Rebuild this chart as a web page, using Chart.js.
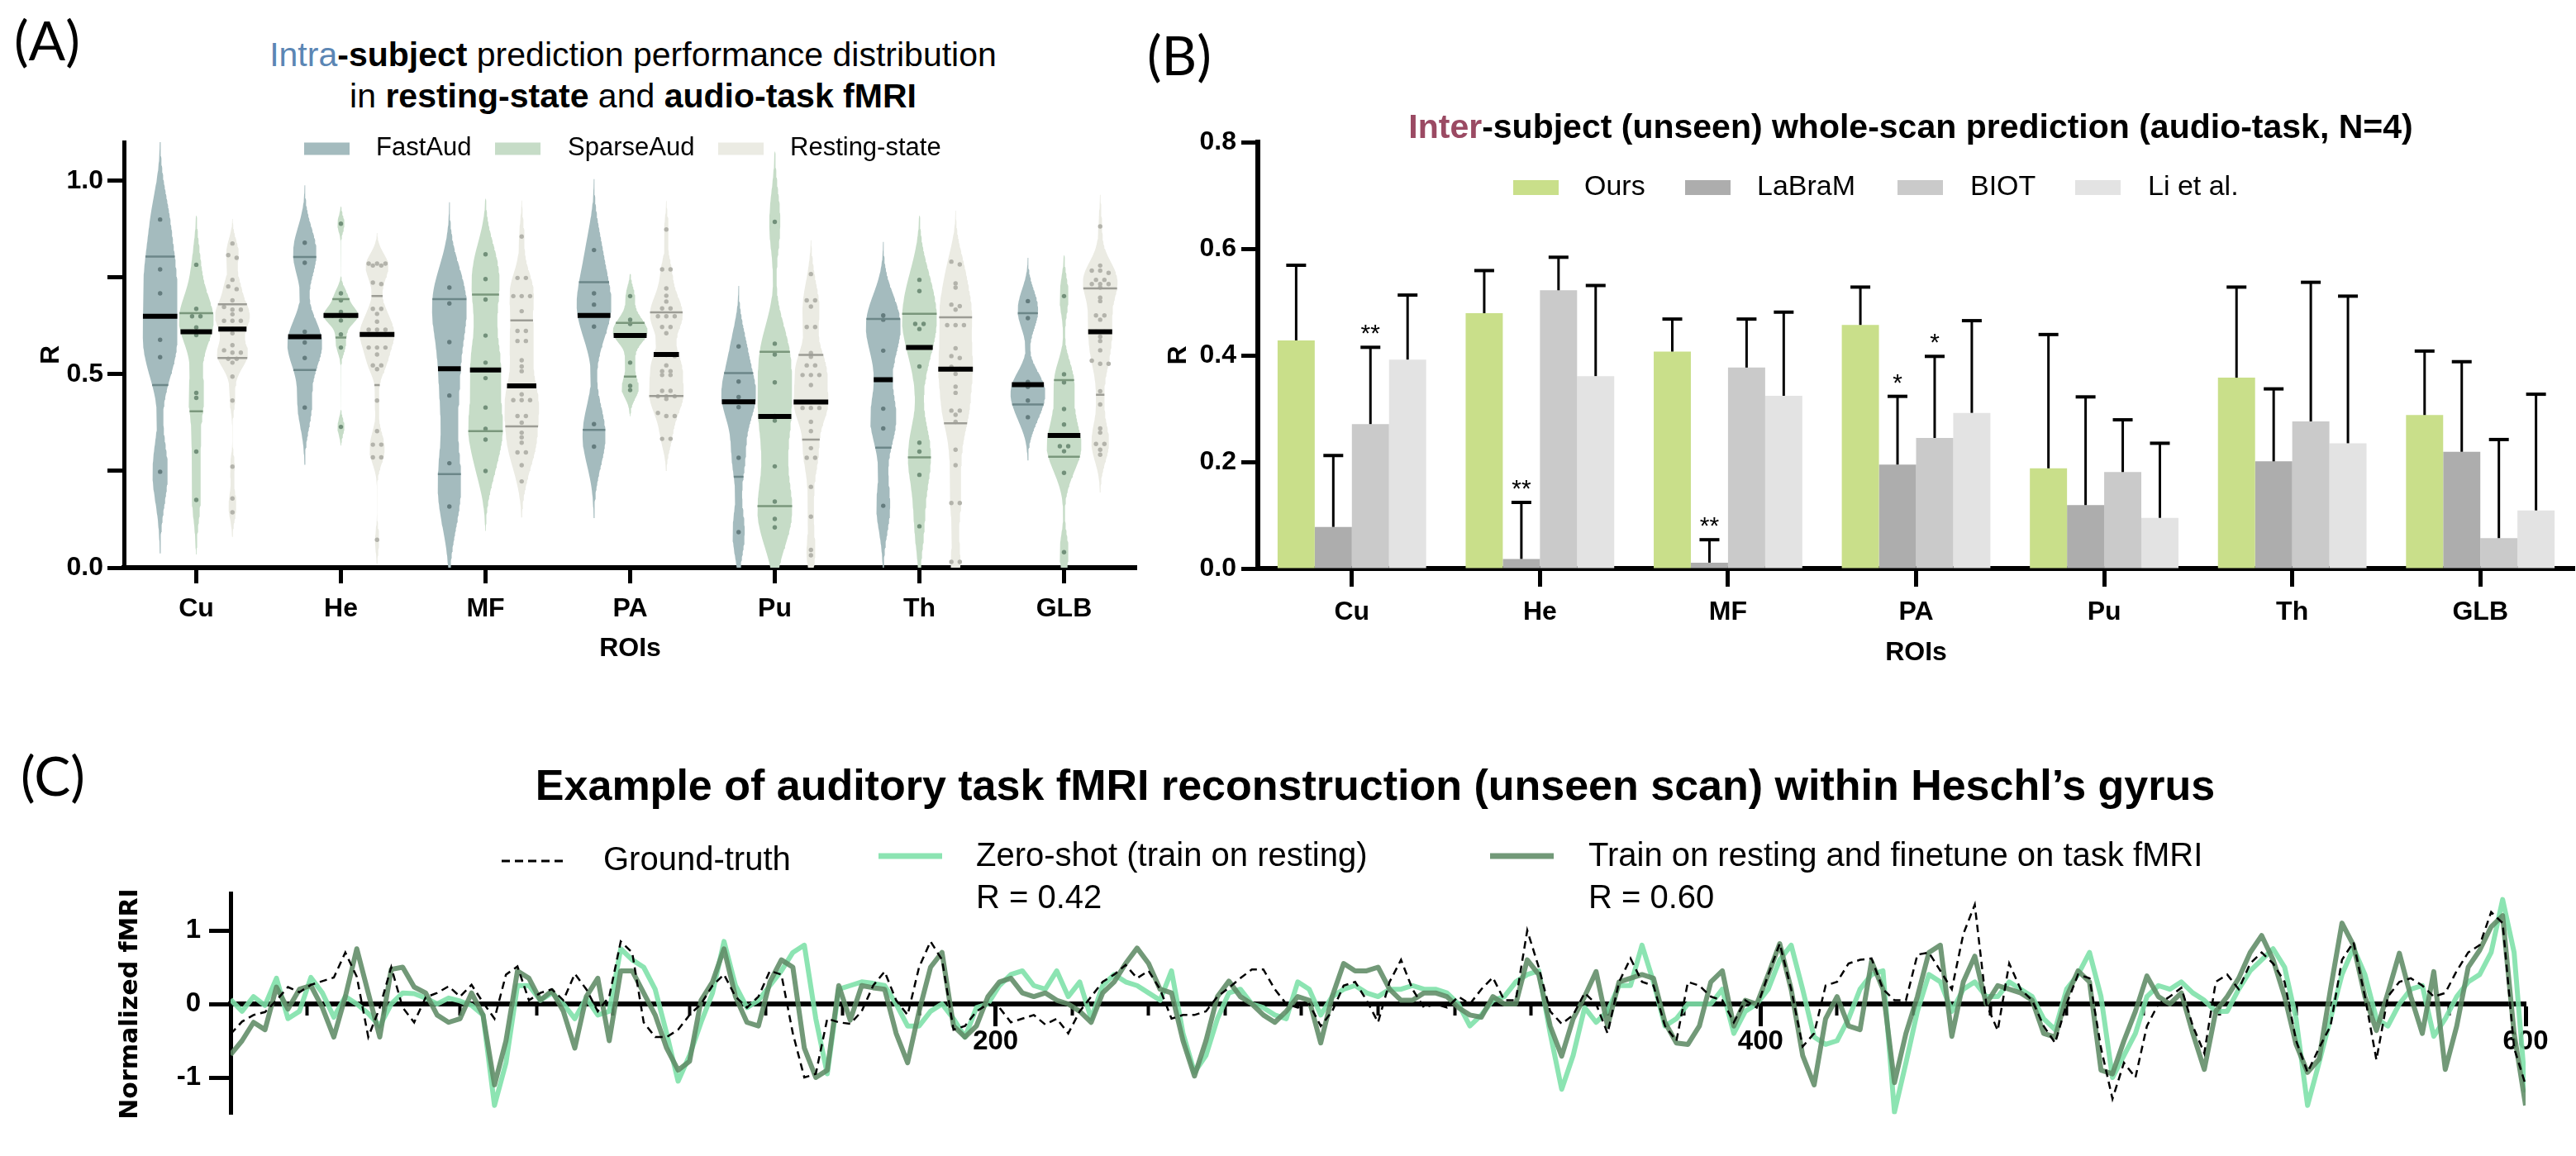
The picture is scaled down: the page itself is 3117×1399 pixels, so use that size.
<!DOCTYPE html>
<html>
<head>
<meta charset="utf-8">
<script src="https://cdn.jsdelivr.net/npm/chart.js@4.4.1/dist/chart.umd.min.js"></script>
<style>
  body { margin: 0; background: #fff; width: 3117px; height: 1399px; position: relative; overflow: hidden;
         font-family: 'Liberation Sans', Arial, sans-serif; }
  canvas { position: absolute; }
  .t { position: absolute; white-space: nowrap; line-height: 1; color: #000; z-index: 2; }
  .c { transform: translateX(-50%); }
  .p { font-family: Lato, 'Open Sans', sans-serif; font-size: 66px; }
</style>
</head>
<body>
<div class="t p" style="left:17px;top:15px">(A)</div>
<div class="t p" style="left:1388px;top:33px">(B)</div>
<div class="t p" style="left:25px;top:905px">(C)</div>

<div class="t c" style="left:766px;top:46px;font-size:41px"><span style="color:#5b86b4">Intra</span><b>-subject</b> prediction performance distribution</div>
<div class="t c" style="left:766px;top:96px;font-size:41px">in <b>resting-state</b> and <b>audio-task fMRI</b></div>
<div class="t c" style="left:2312px;top:133px;font-size:41px;font-weight:bold"><span style="color:#9b4a63">Inter</span>-subject (unseen) whole-scan prediction (audio-task, N=4)</div>
<div class="t c" style="left:1664px;top:924px;font-size:52px;font-weight:bold">Example of auditory task fMRI reconstruction (unseen scan) within Heschl’s gyrus</div>

<canvas id="chartA" width="1400" height="690" style="left:0px;top:140px"></canvas>
<canvas id="chartB" width="1737" height="690" style="left:1380px;top:140px"></canvas>
<canvas id="chartC" width="3117" height="399" style="left:0px;top:1000px"></canvas>

<script>
// ---------------- data ----------------
const roiLabels = ['Cu', 'He', 'MF', 'PA', 'Pu', 'Th', 'GLB'];

// (A) intra-subject R values per scan
const fastAudR = [
  [0.900, 0.771, 0.709, 0.589, 0.544, 0.248],
  [0.840, 0.788, 0.610, 0.582, 0.542, 0.414],
  [0.724, 0.683, 0.583, 0.445, 0.270, 0.158],
  [0.821, 0.709, 0.680, 0.623, 0.371, 0.313],
  [0.572, 0.481, 0.441, 0.415, 0.284, 0.092],
  [0.652, 0.641, 0.561, 0.411, 0.360, 0.160],
  [0.689, 0.645, 0.480, 0.467, 0.432, 0.389]
];
const sparseAudR = [
  [0.783, 0.669, 0.650, 0.650, 0.621, 0.601, 0.452, 0.439, 0.300, 0.175],
  [0.889, 0.709, 0.691, 0.661, 0.652, 0.652, 0.652, 0.639, 0.603, 0.569, 0.364],
  [0.810, 0.746, 0.693, 0.600, 0.530, 0.490, 0.414, 0.359, 0.331, 0.250],
  [0.702, 0.641, 0.630, 0.600, 0.600, 0.600, 0.530, 0.470, 0.459],
  [0.894, 0.579, 0.551, 0.479, 0.392, 0.380, 0.262, 0.171, 0.126, 0.104],
  [0.744, 0.715, 0.630, 0.630, 0.617, 0.520, 0.323, 0.300, 0.240, 0.107],
  [0.702, 0.500, 0.479, 0.410, 0.370, 0.314, 0.314, 0.301, 0.245, 0.040]
];
const restingR = [
  [0.838, 0.808, 0.801, 0.744, 0.727, 0.720, 0.691, 0.674, 0.667, 0.667, 0.655, 0.638, 0.638, 0.638,
   0.617, 0.606, 0.575, 0.562, 0.556, 0.556, 0.540, 0.540, 0.530, 0.494, 0.432, 0.261, 0.179, 0.143],
  [0.786, 0.786, 0.786, 0.781, 0.781, 0.737, 0.733, 0.669, 0.669, 0.656, 0.636, 0.615, 0.615, 0.615,
   0.603, 0.603, 0.603, 0.569, 0.569, 0.569, 0.551, 0.523, 0.523, 0.513, 0.432, 0.353, 0.318, 0.318,
   0.285, 0.285, 0.072],
  [0.856, 0.749, 0.749, 0.702, 0.702, 0.702, 0.663, 0.612, 0.612, 0.586, 0.586, 0.536, 0.520, 0.508,
   0.470, 0.448, 0.433, 0.433, 0.433, 0.392, 0.392, 0.375, 0.349, 0.337, 0.323, 0.298, 0.298, 0.265, 0.223],
  [0.874, 0.771, 0.771, 0.722, 0.703, 0.688, 0.670, 0.670, 0.650, 0.650, 0.650, 0.622, 0.622, 0.606,
   0.550, 0.550, 0.547, 0.523, 0.508, 0.508, 0.498, 0.498, 0.457, 0.457, 0.443, 0.443, 0.443, 0.436,
   0.400, 0.392, 0.392, 0.333, 0.333],
  [0.759, 0.691, 0.691, 0.675, 0.622, 0.622, 0.555, 0.545, 0.523, 0.523, 0.498, 0.498, 0.498, 0.472,
   0.428, 0.428, 0.428, 0.413, 0.413, 0.413, 0.377, 0.353, 0.309, 0.284, 0.284, 0.209, 0.132, 0.046, 0.032],
  [0.791, 0.784, 0.735, 0.724, 0.680, 0.676, 0.667, 0.627, 0.627, 0.627, 0.567, 0.547, 0.542, 0.519,
   0.514, 0.501, 0.468, 0.452, 0.406, 0.406, 0.395, 0.377, 0.305, 0.265, 0.167, 0.167, 0.015, 0.015],
  [0.882, 0.781, 0.768, 0.768, 0.762, 0.744, 0.744, 0.733, 0.733, 0.733, 0.724, 0.698, 0.689, 0.652,
   0.652, 0.641, 0.610, 0.610, 0.597, 0.586, 0.562, 0.535, 0.527, 0.527, 0.456, 0.422, 0.360, 0.349,
   0.320, 0.320, 0.305, 0.292]
];
// (A) quartile lines as drawn: [Q1, median, Q3]
const fastAudQ   = [[0.472, 0.650, 0.804], [0.511, 0.597, 0.803], [0.242, 0.514, 0.694], [0.356, 0.652, 0.738],
                    [0.235, 0.429, 0.503], [0.310, 0.486, 0.643], [0.422, 0.473, 0.658]];
const sparseAudQ = [[0.404, 0.610, 0.658], [0.595, 0.652, 0.694], [0.353, 0.511, 0.706], [0.494, 0.600, 0.633],
                    [0.159, 0.391, 0.558], [0.285, 0.569, 0.656], [0.287, 0.342, 0.485]];
const restingQ   = [[0.542, 0.617, 0.681], [0.472, 0.603, 0.702], [0.365, 0.470, 0.639], [0.444, 0.551, 0.660],
                    [0.331, 0.428, 0.550], [0.373, 0.513, 0.647], [0.447, 0.610, 0.722]];
const aTicks = [0, 0.25, 0.5, 0.75, 1.0];

// (B) inter-subject mean R and upper error
const oursR    = [0.428, 0.479, 0.407, 0.457, 0.188, 0.358, 0.288];
const oursErr  = [0.141, 0.080, 0.061, 0.071, 0.251, 0.170, 0.120];
const labramR  = [0.078, 0.018, 0.011, 0.195, 0.119, 0.201, 0.219];
const labramErr= [0.134, 0.106, 0.043, 0.128, 0.203, 0.136, 0.169];
const biotR    = [0.271, 0.522, 0.377, 0.245, 0.181, 0.276, 0.057];
const biotErr  = [0.144, 0.062, 0.091, 0.153, 0.098, 0.261, 0.185];
const liR      = [0.392, 0.361, 0.324, 0.292, 0.095, 0.235, 0.109];
const liErr    = [0.121, 0.170, 0.157, 0.173, 0.140, 0.276, 0.218];
const labramSig = ['', '**', '**', '*', '', '', ''];
const biotSig   = ['**', '', '', '*', '', '', ''];

// (C) time series, one value every tStep scans (0..600)
const tStep = 3;
const groundTruth = [
  -0.41, -0.24, -0.15, -0.11, 0.05, 0.23, 0.16, 0.26, 0.31, 0.36, 0.70, 0.37, -0.45, -0.05, 0.50,
  -0.05, -0.25, 0.09, 0.15, 0.24, 0.10, 0.26, 0.02, -0.20, 0.40, 0.51, 0.05, 0.15, 0.20, 0.05,
  0.41, 0.20, -0.10, 0.10, 0.85, 0.70, -0.25, -0.45, -0.45, -0.35, -0.15, 0.00, 0.25,
  0.40, 0.10, -0.05, 0.10, 0.45, 0.40, -0.40, -1.00, -0.95, -0.20, -0.25, -0.27, -0.10, 0.25, 0.44,
  0.05, -0.15, 0.50, 0.85, 0.60, -0.35, -0.30, -0.10, 0.00, -0.05, -0.25, -0.20, -0.15, -0.28, -0.20,
  -0.40, -0.10, 0.10, 0.30, 0.40, 0.53, 0.35, 0.45, 0.20, -0.20, -0.15, -0.15, -0.10, 0.10, 0.22,
  0.35, 0.47, 0.47, 0.20, 0.00, -0.05, 0.00, -0.30, -0.10, 0.25, 0.30, 0.05, -0.25, 0.30, 0.60,
  0.20, -0.05, 0.00, -0.05, 0.10, 0.00, 0.20, 0.36, 0.05, 0.05, 1.00, 0.50, -0.10, -0.27, -0.15,
  0.15, 0.00, -0.40, 0.30, 0.62, 0.30, 0.25, -0.30, -0.50, 0.30,
  0.25, 0.10, 0.05, -0.25, 0.05, -0.05, 0.40, 0.82, 0.20, -0.58, -0.40, 0.25, 0.30, 0.55, 0.60,
  0.62, 0.20, 0.05, 0.05, 0.67, 0.70, 0.45, 0.20, 0.95, 1.35, 0.00, -0.36, 0.55, 0.20, 0.05,
  -0.30, -0.53, 0.00, 0.40, 0.35, -0.60, -1.29, -0.80, -1.00, -0.30, 0.00, 0.10, 0.22, -0.30, -0.67,
  0.30, 0.40, 0.20, 0.55, 0.70, 0.55, 0.30, -0.50, -0.93, -0.60, -0.30, 0.60, 0.84, 0.10, -0.76,
  0.10, 0.30, 0.35, 0.25, 0.10, 0.15, 0.45, 0.70, 0.80, 1.25, 1.10, -0.60, -1.10
];
const finetuned = [
  -0.69, -0.50, -0.25, -0.35, 0.23, -0.07, 0.20, 0.25, -0.05, -0.45, 0.10, 0.75, 0.15, -0.45, 0.47,
  0.50, 0.23, 0.15, -0.15, -0.25, -0.20, 0.15, -0.15, -1.10, -0.50, 0.45, 0.35, 0.05, 0.18, -0.10,
  -0.60, 0.10, 0.35, -0.50, 0.45, 0.45, 0.15, -0.15, -0.60, -0.90, -0.78, 0.05, 0.30,
  0.75, 0.10, -0.25, -0.30, 0.30, 0.60, 0.50, -0.60, -1.00, -0.90, 0.25, -0.22, 0.25, 0.22, 0.20,
  -0.40, -0.80, -0.10, 0.50, 0.70, -0.30, -0.45, -0.30, 0.10, 0.30, 0.35, 0.15, 0.10, 0.15, 0.05,
  0.00, -0.10, -0.25, 0.15, 0.30, 0.55, 0.76, 0.55, 0.20, 0.15, -0.50, -0.98, -0.50, 0.10, 0.31,
  0.10, 0.00, -0.15, -0.25, -0.10, 0.10, 0.05, -0.53, 0.10, 0.55, 0.45, 0.45, 0.50, 0.20, 0.05,
  0.05, 0.15, 0.15, 0.10, -0.05, -0.15, -0.18, 0.10, 0.00, 0.00, 0.60, 0.40, -0.30, -0.71, -0.20,
  0.10, 0.44, -0.30, 0.30, 0.35, 0.40, 0.35, -0.25, -0.53, -0.55,
  -0.30, 0.30, 0.45, -0.30, 0.05, 0.00, 0.40, 0.82, 0.20, -0.70, -1.10, -0.20, 0.10, -0.30, -0.35,
  0.58, 0.20, -1.07, -0.40, 0.10, 0.70, 0.80, -0.44, 0.30, 0.65, 0.00, 0.25, 0.20, 0.15, 0.05,
  -0.40, -0.45, 0.10, 0.45, 0.30, -0.90, -0.95, -0.50, -0.10, 0.38, 0.10, 0.00, 0.15, -0.40, -0.89,
  -0.10, 0.10, 0.35, 0.70, 0.93, 0.60, 0.10, -0.55, -0.93, -0.75, 0.20, 1.10, 0.80, 0.10, -0.36,
  0.15, 0.69, 0.10, -0.40, 0.44, -0.89, -0.30, 0.50, 0.73, 1.05, 1.20, -0.40, -1.38
];
const zeroShot = [
  0.06, -0.10, 0.10, -0.02, 0.35, -0.20, -0.10, 0.36, 0.15, -0.18, 0.10, 0.00, -0.13, -0.30, 0.00,
  0.15, 0.14, 0.08, 0.00, 0.08, 0.04, -0.02, -0.15, -1.38, -0.80, 0.25, 0.25, 0.05, 0.15, 0.00,
  -0.20, 0.08, -0.15, -0.10, 0.75, 0.60, 0.50, 0.20, -0.40, -1.05, -0.70, -0.25, 0.15,
  0.85, 0.25, -0.05, 0.05, 0.25, 0.45, 0.70, 0.80, -0.20, -0.95, 0.20, 0.25, 0.30, 0.28, 0.25,
  0.00, -0.30, -0.30, -0.10, 0.00, -0.20, -0.45, -0.05, 0.00, 0.25, 0.40, 0.45, 0.25, 0.20, 0.45,
  0.10, 0.30, -0.20, 0.25, 0.40, 0.30, 0.25, 0.15, 0.05, 0.45, -0.40, -0.93, -0.70, -0.20, 0.15,
  0.20, 0.00, -0.05, -0.15, -0.20, 0.30, 0.20, -0.15, 0.10, 0.20, 0.25, 0.15, 0.10, 0.20, 0.20,
  0.25, 0.20, 0.20, 0.15, 0.00, -0.30, -0.15, 0.05, 0.10, 0.30, 0.40, 0.45, -0.40, -1.16, -0.70,
  -0.05, -0.25, -0.10, 0.25, 0.25, 0.80, 0.30, -0.30, -0.20, 0.00,
  0.00, 0.00, 0.20, -0.40, -0.10, 0.00, 0.20, 0.60, 0.80, 0.20, -0.45, -0.55, -0.50, -0.20, 0.20,
  0.40, 0.45, -1.47, -0.80, -0.10, 0.40, 0.30, -0.10, 0.20, 0.30, 0.10, 0.10, 0.30, 0.20, 0.10,
  -0.20, -0.35, 0.20, 0.40, 0.70, 0.10, -1.00, -0.70, -0.40, 0.10, 0.25, 0.20, 0.30, 0.15, 0.05,
  -0.10, -0.10, 0.20, 0.45, 0.60, 0.75, 0.50, -0.20, -1.38, -0.80, -0.20, 0.40, 0.76, 0.40, -0.20,
  -0.30, 0.00, 0.20, 0.25, -0.44, -0.20, 0.10, 0.30, 0.40, 0.70, 1.42, 0.70, -1.20
];
const cTicks = [-1, 0, 1];
const cMajor = [200, 400, 600];

// ---------------- common ----------------
const FAM = "'Liberation Sans', Arial, sans-serif";
Chart.defaults.font.family = FAM;
Chart.defaults.color = '#000';
Chart.defaults.animation = false;

const panelLegend = {
  id: 'panelLegend',
  afterDraw(chart, args, o) {
    const ctx = chart.ctx;
    ctx.save();
    ctx.font = o.size + 'px ' + FAM;
    ctx.textBaseline = 'middle';
    o.items.forEach(it => {
      if (it.box) {
        ctx.fillStyle = it.color;
        ctx.fillRect(it.x, it.y - it.bh / 2, it.bw, it.bh);
      } else {
        ctx.strokeStyle = it.color;
        ctx.lineWidth = it.lw;
        ctx.setLineDash(it.dash || []);
        ctx.beginPath();
        ctx.moveTo(it.x, it.y);
        ctx.lineTo(it.x + it.len, it.y);
        ctx.stroke();
        ctx.setLineDash([]);
      }
      ctx.fillStyle = '#000';
      it.text.forEach((s, i) => ctx.fillText(s, it.tx, it.ty + i * (o.lh || 0)));
    });
    ctx.restore();
  }
};

// ---------------- (A) violins ----------------
function quantile(s, p) {
  const n = s.length, pos = (n + 1) * p;
  if (pos <= 1) return s[0];
  if (pos >= n) return s[n - 1];
  const lo = Math.floor(pos);
  return s[lo - 1] + (pos - lo) * (s[lo] - s[lo - 1]);
}
function bandwidth(s) {
  const n = s.length, m = s.reduce((a, b) => a + b, 0) / n;
  const sd = Math.sqrt(s.reduce((a, b) => a + (b - m) * (b - m), 0) / (n - 1));
  const iqr = (quantile(s, 0.75) - quantile(s, 0.25)) / 1.34;
  const spread = iqr > 0 ? Math.min(sd, iqr) : sd;
  return 0.51 * spread * Math.pow(n, -0.2);
}
function density(s, h, y) {
  let d = 0;
  s.forEach(v => { const z = (y - v) / h; d += Math.exp(-0.5 * z * z); });
  return d;
}

const YMAX_A = 1.1, HALF = 0.12, GROUP_OFF = [-0.25, 0, 0.25];
const groupsA = [
  { vals: fastAudR,   q: fastAudQ,   fill: '#a4bbbe', dot: '#647c7e', qline: '#6c8789' },
  { vals: sparseAudR, q: sparseAudQ, fill: '#c6dcc7', dot: '#72907a', qline: '#7a977c' },
  { vals: restingR,   q: restingQ,   fill: '#ebebe3', dot: '#b3b3ab', qline: '#9c9c95' }
];

function buildViolin(vals, cx) {
  const s = vals.slice().sort((a, b) => a - b);
  const h = bandwidth(s);
  const lo = Math.max(0, s[0] - 4 * h), hi = Math.min(YMAX_A, s[s.length - 1] + 4 * h);
  const N = 180, ys = [], ds = [];
  for (let i = 0; i <= N; i++) { const y = lo + (hi - lo) * i / N; ys.push(y); ds.push(density(s, h, y)); }
  const dmax = Math.max(...ds);
  let i0 = 0, i1 = N;
  while (i0 < N && ds[i0] / dmax < 0.012) i0++;
  while (i1 > 0 && ds[i1] / dmax < 0.012) i1--;
  const right = [], left = [];
  for (let i = i0; i <= i1; i++) {
    const w = HALF * ds[i] / dmax;
    right.push({ x: cx + w, y: ys[i] });
    left.unshift({ x: cx - w, y: ys[i] });
  }
  return { poly: right.concat(left), width: y => HALF * density(s, h, y) / dmax };
}
function swarm(vals, cx) {
  const s = vals.slice().sort((a, b) => b - a), out = [];
  let grp = [s[0]];
  const flush = () => grp.forEach((v, i) => out.push({ x: cx + (i - (grp.length - 1) / 2) * 0.058, y: v }));
  for (let i = 1; i < s.length; i++) {
    if (grp[grp.length - 1] - s[i] < 0.009 && grp.length < 3) grp.push(s[i]);
    else { flush(); grp = [s[i]]; }
  }
  flush();
  return out;
}

const violinDs = [], pointDs = [], quartDs = [];
const medianPts = [];
groupsA.forEach((g, k) => {
  const pts = [], qpts = [];
  roiLabels.forEach((roi, r) => {
    const cx = r + 0.5 + GROUP_OFF[k];
    const v = buildViolin(g.vals[r], cx);
    violinDs.push({ data: v.poly, fill: 'shape', backgroundColor: g.fill, borderWidth: 0, pointRadius: 0, order: 3 });
    swarm(g.vals[r], cx).forEach(p => pts.push(p));
    const [q1, med, q3] = g.q[r];
    [q1, q3].forEach(q => {
      const w = v.width(q);
      qpts.push({ x: cx - w, y: q }, { x: cx + w, y: q }, { x: cx, y: null });
    });
    const wm = v.width(med);
    medianPts.push({ x: cx - wm, y: med }, { x: cx + wm, y: med }, { x: cx, y: null });
  });
  pointDs.push({ data: pts, showLine: false, pointRadius: 2.7, pointBorderWidth: 0,
                 pointBackgroundColor: g.dot, order: 2 });
  quartDs.push({ data: qpts, borderColor: g.qline, borderWidth: 2.5, pointRadius: 0, spanGaps: false, order: 1 });
});
const medianDs = { data: medianPts, borderColor: '#000', borderWidth: 6, pointRadius: 0, spanGaps: false, order: 0 };

new Chart(document.getElementById('chartA'), {
  type: 'line',
  data: { datasets: [medianDs, ...quartDs, ...pointDs, ...violinDs] },
  options: {
    responsive: false, events: [],
    layout: { padding: { left: 0, right: 25, top: 32, bottom: 0 } },
    plugins: {
      legend: { display: false }, tooltip: { enabled: false },
      panelLegend: { size: 31, items: [
        { box: true, color: '#a4bbbe', x: 368, y: 40, bw: 55, bh: 15, text: ['FastAud'], tx: 455, ty: 39 },
        { box: true, color: '#c6dcc7', x: 599, y: 40, bw: 55, bh: 15, text: ['SparseAud'], tx: 687, ty: 39 },
        { box: true, color: '#ebebe3', x: 869, y: 40, bw: 55, bh: 15, text: ['Resting-state'], tx: 956, ty: 39 }
      ] }
    },
    scales: {
      x: {
        type: 'linear', min: 0, max: 7,
        afterBuildTicks: s => { s.ticks = roiLabels.map((_, i) => ({ value: i + 0.5 })); },
        afterFit: s => { s.height = 143; },
        ticks: { callback: v => roiLabels[Math.floor(v)], font: { size: 32, weight: 'bold' },
                 padding: 12, maxRotation: 0, autoSkip: false },
        grid: { drawOnChartArea: false, color: '#000', tickLength: 19, tickWidth: 5 },
        border: { color: '#000', width: 6 },
        title: { display: true, text: 'ROIs', font: { size: 32, weight: 'bold' }, padding: { top: 0, bottom: 26 } }
      },
      y: {
        min: 0, max: YMAX_A,
        afterBuildTicks: s => { s.ticks = aTicks.map(v => ({ value: v })); },
        afterFit: s => { s.width = 150; },
        ticks: { callback: v => (Math.abs(v * 2 - Math.round(v * 2)) < 1e-6 ? v.toFixed(1) : ''),
                 font: { size: 32, weight: 'bold' }, padding: 5 },
        grid: { drawOnChartArea: false, color: '#000', tickLength: 20, tickWidth: 5 },
        border: { color: '#000', width: 5 },
        title: { display: true, text: 'R', font: { size: 32, weight: 'bold' }, padding: { top: 43, bottom: 0 } }
      }
    }
  },
  plugins: [panelLegend]
});

// ---------------- (B) bars ----------------
const errorBars = {
  id: 'errorBars',
  afterDatasetsDraw(chart) {
    const ctx = chart.ctx, y = chart.scales.y;
    ctx.save();
    chart.data.datasets.forEach((ds, i) => {
      chart.getDatasetMeta(i).data.forEach((bar, j) => {
        const top = y.getPixelForValue(ds.data[j] + ds.err[j]);
        ctx.strokeStyle = '#000';
        ctx.lineWidth = 3;
        ctx.beginPath(); ctx.moveTo(bar.x, bar.y); ctx.lineTo(bar.x, top); ctx.stroke();
        ctx.lineWidth = 4;
        ctx.beginPath(); ctx.moveTo(bar.x - 12, top); ctx.lineTo(bar.x + 12, top); ctx.stroke();
        if (ds.sig && ds.sig[j]) {
          ctx.fillStyle = '#000';
          ctx.font = '30px ' + FAM;
          ctx.textAlign = 'center';
          ctx.textBaseline = 'alphabetic';
          ctx.fillText(ds.sig[j], bar.x, top - 7);
        }
      });
    });
    ctx.restore();
  }
};

new Chart(document.getElementById('chartB'), {
  type: 'bar',
  data: {
    labels: roiLabels,
    datasets: [
      { label: 'Ours', data: oursR, err: oursErr, backgroundColor: '#c9df8a' },
      { label: 'LaBraM', data: labramR, err: labramErr, sig: labramSig, backgroundColor: '#adadad' },
      { label: 'BIOT', data: biotR, err: biotErr, sig: biotSig, backgroundColor: '#cacaca' },
      { label: 'Li et al.', data: liR, err: liErr, backgroundColor: '#e3e3e3' }
    ]
  },
  options: {
    responsive: false, events: [],
    layout: { padding: { left: 0, right: 2, top: 32, bottom: 0 } },
    datasets: { bar: { categoryPercentage: 0.79, barPercentage: 1.0, borderWidth: 0 } },
    plugins: {
      legend: { display: false }, tooltip: { enabled: false },
      panelLegend: { size: 34, items: [
        { box: true, color: '#c9df8a', x: 451, y: 87, bw: 55, bh: 18, text: ['Ours'], tx: 537, ty: 87 },
        { box: true, color: '#adadad', x: 659, y: 87, bw: 55, bh: 18, text: ['LaBraM'], tx: 746, ty: 87 },
        { box: true, color: '#cacaca', x: 916, y: 87, bw: 55, bh: 18, text: ['BIOT'], tx: 1004, ty: 87 },
        { box: true, color: '#e3e3e3', x: 1131, y: 87, bw: 55, bh: 18, text: ['Li et al.'], tx: 1219, ty: 87 }
      ] }
    },
    scales: {
      x: {
        afterFit: s => { s.height = 142; },
        ticks: { font: { size: 32, weight: 'bold' }, padding: 12, maxRotation: 0 },
        grid: { offset: false, drawOnChartArea: false, color: '#000', tickLength: 22, tickWidth: 5 },
        border: { color: '#000', width: 6 },
        title: { display: true, text: 'ROIs', font: { size: 32, weight: 'bold' }, padding: { top: 0, bottom: 21 } }
      },
      y: {
        min: 0, max: 0.8,
        ticks: { stepSize: 0.2, callback: v => v.toFixed(1), font: { size: 32, weight: 'bold' }, padding: 6 },
        afterFit: s => { s.width = 142; },
        grid: { drawOnChartArea: false, color: '#000', tickLength: 20, tickWidth: 5 },
        border: { color: '#000', width: 6 },
        title: { display: true, text: 'R', font: { size: 32, weight: 'bold' }, padding: { top: 27, bottom: 0 } }
      }
    }
  },
  plugins: [errorBars, panelLegend]
});

// ---------------- (C) time series ----------------
const asXY = arr => arr.map((v, i) => ({ x: i * tStep, y: v }));

new Chart(document.getElementById('chartC'), {
  type: 'line',
  data: {
    datasets: [
      { label: 'Ground-truth', data: asXY(groundTruth), borderColor: '#000', borderWidth: 2.5,
        borderDash: [9, 6], pointRadius: 0 },
      { label: 'Train on resting and finetune on task fMRI', data: asXY(finetuned),
        borderColor: 'rgba(94,139,101,0.88)', borderWidth: 6, pointRadius: 0, borderJoinStyle: 'round' },
      { label: 'Zero-shot (train on resting)', data: asXY(zeroShot),
        borderColor: 'rgba(128,225,170,0.9)', borderWidth: 6, pointRadius: 0, borderJoinStyle: 'round' }
    ]
  },
  options: {
    responsive: false, events: [],
    layout: { padding: { left: 0, right: 61, top: 81.5, bottom: 50.5 } },
    plugins: {
      legend: { display: false }, tooltip: { enabled: false },
      panelLegend: { size: 40, lh: 51, items: [
        { box: false, color: '#000', lw: 3, dash: [10, 6], x: 607, y: 42, len: 77, text: ['Ground-truth'], tx: 730, ty: 42 },
        { box: false, color: 'rgba(128,225,170,0.9)', lw: 7, x: 1063, y: 36, len: 77,
          text: ['Zero-shot (train on resting)', 'R = 0.42'], tx: 1181, ty: 37 },
        { box: false, color: 'rgba(94,139,101,0.88)', lw: 7, x: 1803, y: 36, len: 77,
          text: ['Train on resting and finetune on task fMRI', 'R = 0.60'], tx: 1922, ty: 37 }
      ] }
    },
    scales: {
      x: {
        type: 'linear', min: 0, max: 600, position: { y: 0 },
        afterBuildTicks: s => { s.ticks = cMajor.map(v => ({ value: v })); },
        ticks: { font: { size: 33, weight: 'bold' }, padding: 2, maxRotation: 0 },
        grid: { drawOnChartArea: false, color: '#000', tickLength: 24, tickWidth: 5 },
        border: { color: '#000', width: 6 }
      },
      xm: {
        type: 'linear', min: 0, max: 600, position: { y: 0 },
        afterBuildTicks: s => { const t = []; for (let v = 20; v < 600; v += 20) t.push({ value: v }); s.ticks = t; },
        ticks: { display: false },
        grid: { drawOnChartArea: false, color: '#000', tickLength: 14, tickWidth: 4 },
        border: { display: false }
      },
      y: {
        min: -1.5, max: 1.5,
        afterBuildTicks: s => { s.ticks = cTicks.map(v => ({ value: v })); },
        afterFit: s => { s.width = 279; },
        ticks: { font: { size: 33, weight: 'bold' }, padding: 10 },
        grid: { drawOnChartArea: false, color: '#000', tickLength: 26, tickWidth: 5 },
        border: { color: '#000', width: 5 },
        title: { display: true, text: 'Normalized fMRI', font: { family: "'DejaVu Sans'", size: 30, weight: 'bold' },
                 padding: { top: 140, bottom: 0 } }
      }
    }
  },
  plugins: [panelLegend]
});
</script>
</body>
</html>
